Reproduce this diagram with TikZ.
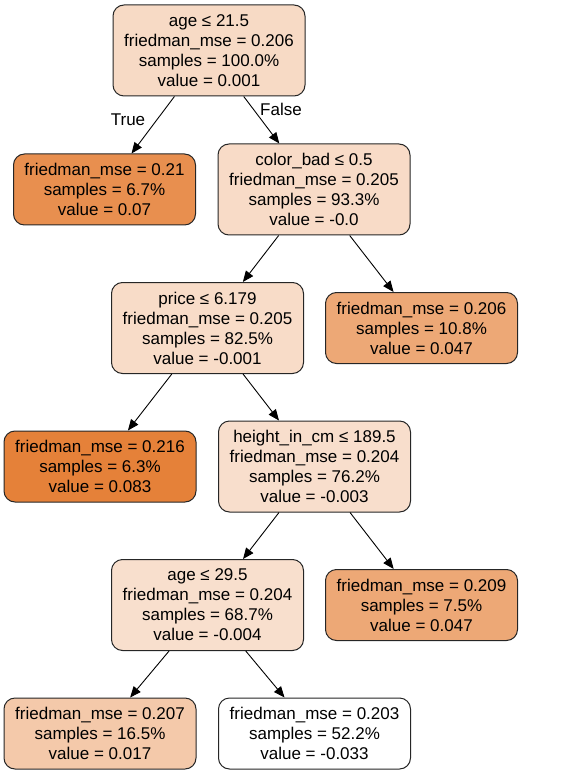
\documentclass[tikz,border=0pt]{standalone}
\usepackage{fontspec}
\setmainfont{Liberation Sans}
\usetikzlibrary{arrows.meta}
\definecolor{c001}{RGB}{247,218,197}
\definecolor{c070}{RGB}{232,143,79}
\definecolor{c000}{RGB}{248,219,199}
\definecolor{c047}{RGB}{237,168,118}
\definecolor{cm001}{RGB}{248,220,200}
\definecolor{c083}{RGB}{229,129,57}
\definecolor{cm003}{RGB}{248,222,204}
\definecolor{cm004}{RGB}{248,223,205}
\definecolor{c017}{RGB}{244,201,170}
\begin{document}
\begin{tikzpicture}[x=1pt,y=-1pt,
  treenode/.style={draw=black!85, line width=1pt, rounded corners=11pt,
    align=center, inner sep=0pt, minimum width=192pt,
    font=\fontsize{17}{20}\selectfont},
  splitnode/.style={treenode, minimum height=91pt},
  leafnode/.style={treenode, minimum height=71pt},
  edge/.style={line width=0.9pt, -{Triangle[length=11pt,width=9pt]}},
  edgelabel/.style={font=\fontsize{17}{20}\selectfont, inner sep=0pt}]
\useasboundingbox (0,0) rectangle (583,775);

\node[splitnode, fill=c001] (root) at (209,50.5)
  {age ≤ 21.5\\friedman\_mse = 0.206\\samples = 100.0\%\\value = 0.001};
\node[leafnode, fill=c070, minimum width=182pt] (l1) at (104.5,189.5)
  {friedman\_mse = 0.21\\samples = 6.7\%\\value = 0.07};
\node[splitnode, fill=c000] (color) at (314,189.5)
  {color\_bad ≤ 0.5\\friedman\_mse = 0.205\\samples = 93.3\%\\value = -0.0};
\node[splitnode, fill=cm001] (price) at (207.5,328)
  {price ≤ 6.179\\friedman\_mse = 0.205\\samples = 82.5\%\\value = -0.001};
\node[leafnode, fill=c047] (l2) at (421.5,328)
  {friedman\_mse = 0.206\\samples = 10.8\%\\value = 0.047};
\node[leafnode, fill=c083] (l3) at (100,466.5)
  {friedman\_mse = 0.216\\samples = 6.3\%\\value = 0.083};
\node[splitnode, fill=cm003] (height) at (314.5,466.5)
  {height\_in\_cm ≤ 189.5\\friedman\_mse = 0.204\\samples = 76.2\%\\value = -0.003};
\node[splitnode, fill=cm004] (age2) at (207.5,605)
  {age ≤ 29.5\\friedman\_mse = 0.204\\samples = 68.7\%\\value = -0.004};
\node[leafnode, fill=c047] (l4) at (421.5,605)
  {friedman\_mse = 0.209\\samples = 7.5\%\\value = 0.047};
\node[leafnode, fill=c017] (l5) at (100,733.5)
  {friedman\_mse = 0.207\\samples = 16.5\%\\value = 0.017};
\node[leafnode, fill=white] (l6) at (314.5,733.5)
  {friedman\_mse = 0.203\\samples = 52.2\%\\value = -0.033};

\draw[edge] (root) -- (l1);
\draw[edge] (root) -- (color);
\draw[edge] (color) -- (price);
\draw[edge] (color) -- (l2);
\draw[edge] (price) -- (l3);
\draw[edge] (price) -- (height);
\draw[edge] (height) -- (age2);
\draw[edge] (height) -- (l4);
\draw[edge] (age2) -- (l5);
\draw[edge] (age2) -- (l6);

\node[edgelabel] (truelbl) at (128,120) {True};
\node[edgelabel] (falselbl) at (281,109) {False};
\end{tikzpicture}
\end{document}
